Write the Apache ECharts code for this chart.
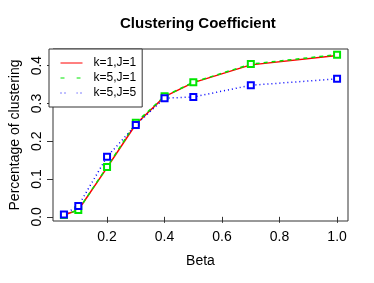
<!DOCTYPE html>
<html>
<head>
<meta charset="utf-8">
<script src="https://cdn.jsdelivr.net/npm/echarts@6/dist/echarts.min.js"></script>
<style>html,body{margin:0;padding:0;background:#fff;}#c{width:374px;height:283px;}</style>
</head>
<body>
<div id="c"></div>
<script>
const beta = [0.05, 0.1, 0.2, 0.3, 0.4, 0.5, 0.7, 1.0];
const k1j1 = [0.005, 0.018, 0.130, 0.245, 0.318, 0.355, 0.402, 0.427];
const k5j1 = [0.005, 0.018, 0.132, 0.249, 0.319, 0.356, 0.404, 0.429];
const k5j5 = [0.006, 0.029, 0.159, 0.243, 0.314, 0.317, 0.348, 0.365];
const xTicks = [0.2, 0.4, 0.6, 0.8, 1.0];
const yTicks = [0.0, 0.1, 0.2, 0.3, 0.4];
const names = ['k=1,J=1', 'k=5,J=1', 'k=5,J=5'];

const pair = (ys) => beta.map((b, i) => [b, ys[i]]);
const font = 'Liberation Sans, Arial, Helvetica, sans-serif';
const chart = echarts.init(document.getElementById('c'), null, {renderer: 'canvas'});
chart.setOption({
  backgroundColor: '#fff',
  animation: false,
  title: {
    text: 'Clustering Coefficient', left: 120, top: 16, padding: 0,
    textStyle: {fontFamily: font, fontSize: 15, fontWeight: 'bold', color: '#000'}
  },
  grid: {left: 49, right: 26, top: 49, bottom: 62, show: true, borderColor: '#333', borderWidth: 1, backgroundColor: 'transparent'},
  legend: {
    orient: 'vertical', left: 49, top: 49,
    padding: [8, 6, 8, 11], itemWidth: 22, itemHeight: 12, itemGap: 3,
    borderColor: '#333', borderWidth: 1, backgroundColor: '#fff',
    data: names,
    itemStyle: {color: 'transparent', borderColor: 'transparent', borderWidth: 0},
    lineStyle: {width: 1},
    textStyle: {fontFamily: font, fontSize: 12, color: '#000', padding: [0, 0, 0, 6]}
  },
  xAxis: {
    type: 'value', min: 0.012, max: 1.038,
    name: 'Beta', nameLocation: 'middle', nameGap: 33,
    nameTextStyle: {fontFamily: font, fontSize: 14, color: '#000'},
    axisLine: {show: false}, splitLine: {show: false},
    axisTick: {show: true, length: 6, customValues: xTicks, lineStyle: {color: '#333'}},
    axisLabel: {customValues: xTicks, margin: 9, fontFamily: font, fontSize: 14, color: '#000', formatter: v => v.toFixed(1)}
  },
  yAxis: {
    type: 'value', min: -0.011, max: 0.444,
    name: 'Percentage of clustering', nameLocation: 'middle', nameGap: 31,
    nameTextStyle: {fontFamily: font, fontSize: 14, color: '#000'},
    axisLine: {show: false}, splitLine: {show: false},
    axisTick: {show: true, length: 6, customValues: yTicks, lineStyle: {color: '#333'}},
    axisLabel: {customValues: yTicks, rotate: 90, margin: 9, fontFamily: font, fontSize: 14, color: '#000', formatter: v => v.toFixed(1)}
  },
  series: [
    {name: names[0], type: 'line', data: pair(k1j1), showSymbol: false, symbol: 'none',
     lineStyle: {color: '#ff0000', width: 1.5, type: 'solid'}, itemStyle: {color: '#ff0000'}},
    {name: names[1], type: 'line', data: pair(k5j1), symbol: 'emptyRect', symbolSize: 6,
     lineStyle: {color: '#00e600', width: 1.5, type: [4, 4]}, itemStyle: {color: '#00e600', borderColor: '#00e600', borderWidth: 1.5}},
    {name: names[2], type: 'line', data: pair(k5j5), symbol: 'emptyRect', symbolSize: 6,
     lineStyle: {color: '#0000ff', width: 1.5, type: [1, 3]}, itemStyle: {color: '#0000ff', borderColor: '#0000ff', borderWidth: 1.5}}
  ]
});
</script>
</body>
</html>
